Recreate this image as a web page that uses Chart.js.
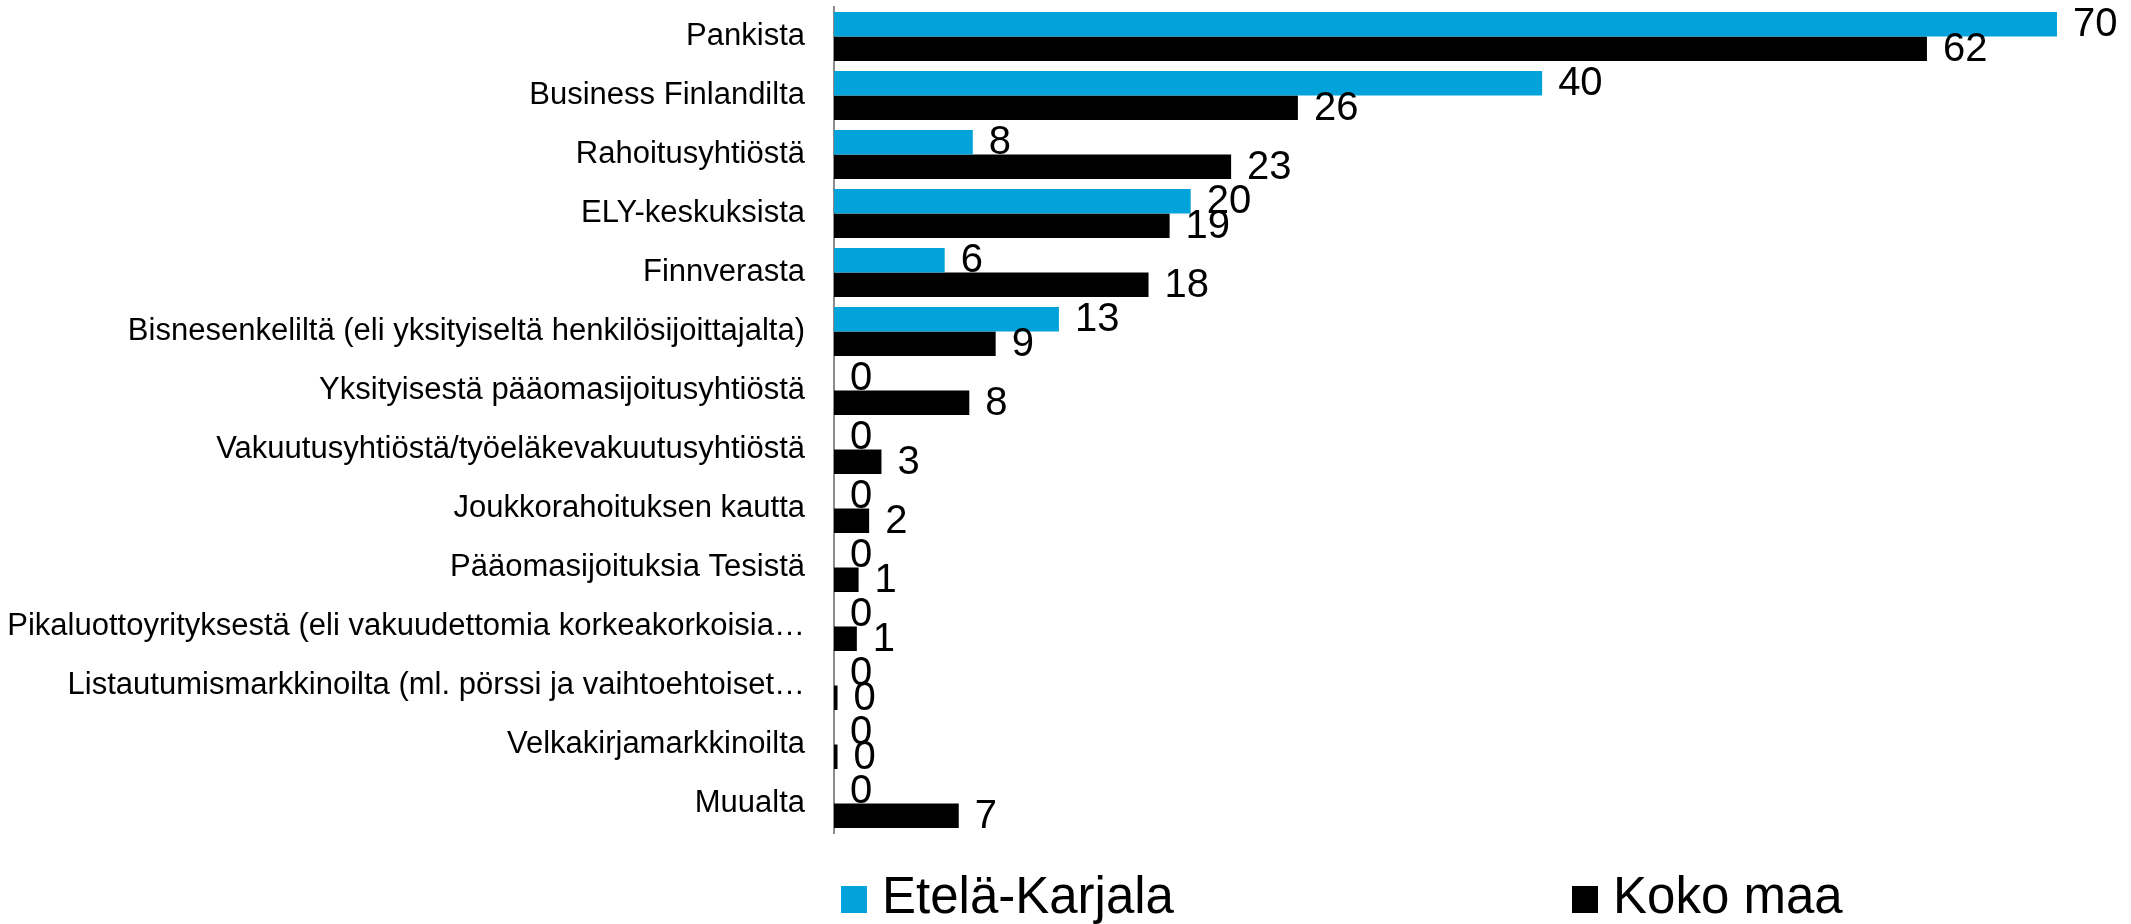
<!DOCTYPE html>
<html lang="fi">
<head>
<meta charset="utf-8">
<title>Rahoituksen lähteet</title>
<script src="https://cdn.jsdelivr.net/npm/chart.js@4/dist/chart.umd.min.js"></script>
<style>
    body { margin: 0; background: #fff; }
    canvas { display: block; }
</style>
</head>
<body>
<canvas id="fundingChart" width="2131" height="924"></canvas>
<script>
const categories = [
    'Pankista',
    'Business Finlandilta',
    'Rahoitusyhtiöstä',
    'ELY-keskuksista',
    'Finnverasta',
    'Bisnesenkeliltä (eli yksityiseltä henkilösijoittajalta)',
    'Yksityisestä pääomasijoitusyhtiöstä',
    'Vakuutusyhtiöstä/työeläkevakuutusyhtiöstä',
    'Joukkorahoituksen kautta',
    'Pääomasijoituksia Tesistä',
    'Pikaluottoyrityksestä (eli vakuudettomia korkeakorkoisia…',
    'Listautumismarkkinoilta (ml. pörssi ja vaihtoehtoiset…',
    'Velkakirjamarkkinoilta',
    'Muualta'
];

const seriesNames = ['Etelä-Karjala', 'Koko maa'];

const etelaKarjala = [69.6, 40.3, 7.9, 20.3, 6.3, 12.8, 0, 0, 0, 0, 0, 0, 0, 0];
const kokoMaa = [62.2, 26.4, 22.6, 19.1, 17.9, 9.2, 7.7, 2.7, 2.0, 1.4, 1.3, 0.2, 0.2, 7.1];

const fontFamily = '"Liberation Sans", Arial, sans-serif';

// Value labels at the end of each bar
const valueLabels = {
    id: 'valueLabels',
    afterDatasetsDraw(chart) {
        const c = chart.ctx;
        c.save();
        c.font = '40px ' + fontFamily;
        c.fillStyle = '#000';
        c.textAlign = 'left';
        c.textBaseline = 'middle';
        chart.data.datasets.forEach((ds, i) => {
            chart.getDatasetMeta(i).data.forEach((bar, j) => {
                c.fillText(Math.round(ds.data[j]), bar.x + 16, bar.y + 1);
            });
        });
        c.restore();
    }
};

// Legend below the plot, two items spread apart
const bottomLegend = {
    id: 'bottomLegend',
    afterDraw(chart) {
        const c = chart.ctx;
        const left = chart.chartArea.left;
        const offsets = [7, 738];
        const baseline = 913;
        c.save();
        c.font = '51px ' + fontFamily;
        c.textAlign = 'left';
        c.textBaseline = 'alphabetic';
        chart.data.datasets.forEach((ds, i) => {
            const x = left + offsets[i];
            c.fillStyle = ds.backgroundColor;
            c.fillRect(x, baseline - 27, 26, 27);
            c.fillStyle = '#000';
            c.fillText(ds.label, x + 41, baseline);
        });
        c.restore();
    }
};

let ctx = document.getElementById('fundingChart').getContext('2d');
let fundingChart = new Chart(ctx, {
    type: 'bar',
    data: {
        labels: categories,
        datasets: [
            {
                label: seriesNames[0],
                data: etelaKarjala,
                backgroundColor: '#02a3da',
                categoryPercentage: 0.83,
                barPercentage: 1
            },
            {
                label: seriesNames[1],
                data: kokoMaa,
                backgroundColor: '#000000',
                categoryPercentage: 0.83,
                barPercentage: 1
            }
        ]
    },
    options: {
        indexAxis: 'y',
        responsive: false,
        animation: false,
        layout: {
            padding: { top: 7, right: 67, bottom: 91, left: 0 }
        },
        plugins: {
            legend: { display: false },
            tooltip: { enabled: false }
        },
        scales: {
            x: {
                display: false,
                min: 0,
                max: 70
            },
            y: {
                afterFit(scale) {
                    // fixed label column, no extra room above/below the plot
                    scale.width = 834;
                    scale.paddingTop = 0;
                    scale.paddingBottom = 0;
                },
                grid: { display: false, drawTicks: false },
                border: { display: true, color: '#8c8c8c', width: 2 },
                ticks: {
                    padding: 29,
                    color: '#000',
                    font: { family: fontFamily, size: 31 }
                }
            }
        }
    },
    plugins: [valueLabels, bottomLegend]
});
</script>
</body>
</html>
